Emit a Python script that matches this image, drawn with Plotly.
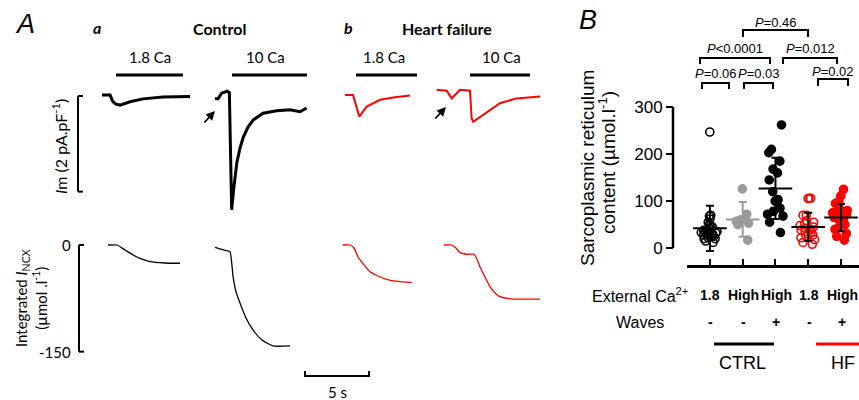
import plotly.graph_objects as go

W, H = 859, 400
def px(x): return x / W
def py(y): return 1 - y / H

# ---------------- Panel A: example recordings ----------------
# times in s from each sweep start; Im in pA/pF
ctrl18_im_t = [0, 0.63, 0.86, 1.09, 1.41, 2.19, 3.2, 4.77, 6.88]
ctrl18_im = [0.02, 0.02, -0.12, -0.17, -0.19, -0.12, -0.06, -0.02, -0.01]
ctrl10_im_t = [0, 0.23, 0.52, 0.94, 1.12, 1.30, 1.45, 1.70, 1.95, 2.21, 2.58, 2.99, 3.75, 4.82, 5.86, 6.64, 7.16]
ctrl10_im = [-0.05, -0.06, 0.06, 0.10, 0.07, -2.38, -1.97, -1.40, -1.09, -0.86, -0.65, -0.50, -0.36, -0.31, -0.29, -0.33, -0.25]
hf18_im_t = [0.23, 0.86, 1.35, 1.93, 2.97, 3.98, 5.31]
hf18_im = [0.02, 0.02, -0.43, -0.22, -0.08, -0.03, 0.01]
hf10_im_t = [0.05, 0.84, 1.23, 1.48, 1.88, 2.66, 2.79, 2.91, 3.67, 5.0, 6.30, 8.13]
hf10_im = [0.13, 0.11, -0.05, 0.02, 0.13, 0.11, -0.47, -0.54, -0.40, -0.15, -0.05, -0.01]

# integrated I_NCX in umol/l
ctrl18_int_t = [0.47, 1.17, 1.80, 2.42, 3.13, 3.75, 4.92, 6.09]
ctrl18_int = [0, 0, -7, -14, -20, -23.5, -25.3, -25.7]
ctrl10_int_t = [0, 0.55, 0.91, 1.17, 1.41, 1.64, 1.95, 2.42, 2.97, 3.67, 4.53, 5.86]
ctrl10_int = [-3.2, -6.3, -8, -9.4, -44.6, -66, -81.6, -102.7, -119.5, -133.6, -142, -142]
hf18_int_t = [0.05, 0.63, 0.94, 1.25, 1.72, 2.19, 2.81, 3.49, 4.38, 5.45]
hf18_int = [0, 0, -4.2, -16.5, -28, -37.6, -43.6, -48.2, -51.3, -53]
hf10_int_t = [0.63, 1.23, 1.56, 1.88, 2.40, 2.97, 3.20, 3.44, 3.83, 4.22, 4.61, 5.0, 5.55, 6.02, 8.13]
hf10_int = [0, 0, -4.2, -10.8, -13, -13, -19.7, -30.5, -45, -58.6, -67.5, -72.7, -75.2, -76, -76]

sweep_labels = ["1.8 Ca", "10 Ca", "1.8 Ca", "10 Ca"]
im_scale = [0, -2]          # 2 pA/pF scale bar
int_ticks = [0, -150]
time_scale_s = 5

# ---------------- Panel B: SR content ----------------
categories = ["1.8", "High", "High", "1.8", "High"]
waves = ["-", "-", "+", "-", "+"]
ctrl_18 = [247, 70, 68, 62, 55, 50, 48, 45, 42, 40, 38, 36, 35, 35, 33, 32, 30, 30,
           28, 28, 27, 25, 25, 22, 20, 20, 15, 12]
ctrl_high = [126, 72, 60, 57, 53, 50, 17]
ctrl_high_waves = [262, 210, 203, 185, 168, 160, 145, 120, 103, 100, 85, 78, 72, 68, 55, 33]
hf_18 = [106, 106, 105, 70, 70, 58, 55, 52, 48, 45, 42, 40, 38, 35, 33, 30, 28, 25, 22, 18, 12, 8]
hf_high_waves = [125, 111, 100, 95, 85, 80, 78, 75, 72, 70, 68, 65, 62, 58, 55, 50, 45, 40, 31, 25, 17]
group_means = [42, 61, 127, 45, 65]
group_sds = [48, 37, 65, 30, 29]
y_ticks = [0, 100, 200, 300]
p_values = ["0.06", "0.03", "<0.0001", "0.012", "0.46", "0.02"]

BLACK, RED, GREY = "#000000", "#ff0000", "#9a9a9a"
FA = "Lato"
FB = "Liberation Sans"

fig = go.Figure()

# ---- layout geometry for panel A ----
T0PX, PXS = 102, 12.8           # pixel of t=0, px per second
sweep_offsets = [0, 8.83, 18.75, 26.09]
Y0_TOP, PX_PER_PA = 96, 47.8
Y0_BOT, PX_PER_UM = 245, 0.711

im_sets = [(ctrl18_im_t, ctrl18_im, BLACK, 3.0), (ctrl10_im_t, ctrl10_im, BLACK, 3.0),
           (hf18_im_t, hf18_im, RED, 2.0), (hf10_im_t, hf10_im, RED, 2.0)]
int_sets = [(ctrl18_int_t, ctrl18_int, BLACK), (ctrl10_int_t, ctrl10_int, BLACK),
            (hf18_int_t, hf18_int, RED), (hf10_int_t, hf10_int, RED)]

for off, (t, v, c, w) in zip(sweep_offsets, im_sets):
    fig.add_trace(go.Scatter(x=[ti + off for ti in t], y=v, mode="lines", xaxis="x", yaxis="y",
                             line=dict(color=c, width=w), hoverinfo="skip", showlegend=False))
for off, (t, v, c) in zip(sweep_offsets, int_sets):
    fig.add_trace(go.Scatter(x=[ti + off for ti in t], y=v, mode="lines", xaxis="x", yaxis="y2",
                             line=dict(color=c, width=1.3, shape="spline", smoothing=0.5),
                             hoverinfo="skip", showlegend=False))

# ---- Panel B points ----
groups = [ctrl_18, ctrl_high, ctrl_high_waves, hf_18, hf_high_waves]
styles = [("circle-open", BLACK), ("circle", GREY), ("circle", BLACK),
          ("circle-open", RED), ("circle", RED)]
bar_cols = [BLACK, GREY, BLACK, BLACK, BLACK]
for i, (vals, (sym, col)) in enumerate(zip(groups, styles)):
    fig.add_trace(go.Box(y=vals, x0=i, xaxis="x2", yaxis="y3", boxpoints="all", jitter=0.85,
                         pointpos=0, width=0.7, fillcolor="rgba(0,0,0,0)",
                         line=dict(width=0, color="rgba(0,0,0,0)"), whiskerwidth=0,
                         marker=dict(symbol=sym, size=8, color=col, line=dict(width=1.6, color=col)),
                         hoverinfo="skip", showlegend=False))
for i, (m, s) in enumerate(zip(group_means, group_sds)):
    fig.add_trace(go.Scatter(x=[i], y=[m], xaxis="x2", yaxis="y3", mode="markers",
                             marker=dict(symbol="line-ew", size=24, color=bar_cols[i],
                                         line=dict(width=2, color=bar_cols[i])),
                             error_y=dict(type="data", array=[s], width=4, thickness=2, color=bar_cols[i]),
                             hoverinfo="skip", showlegend=False, cliponaxis=False))

shapes, ann = [], []

def text(x, y, s, size, font=FA, color=BLACK, xanchor="center", angle=0, yref="paper", yv=None):
    ann.append(dict(x=px(x), y=py(y) if yv is None else yv, xref="paper", yref=yref, text=s,
                    showarrow=False, xanchor=xanchor, yanchor="middle", textangle=angle,
                    font=dict(family=font, size=size, color=color)))

def line(x0, y0, x1, y1, color=BLACK, width=2):
    shapes.append(dict(type="line", xref="paper", yref="paper", x0=px(x0), y0=py(y0),
                       x1=px(x1), y1=py(y1), line=dict(color=color, width=width)))

# Panel A labels
text(25, 24, "<i>A</i>", 27, font="Liberation Sans")
text(97, 27, "<b><i>a</i></b>", 16)
text(348, 27, "<b><i>b</i></b>", 16)
text(219, 28, "<b>Control</b>", 16)
text(447, 28, "<b>Heart failure</b>", 16)
lab_pos = [(150, 116, 183), (265, 232, 307), (384, 356, 417), (501, 470, 530)]
for lbl, (cx, b0, b1) in zip(sweep_labels, lab_pos):
    text(cx, 57, lbl, 15)
    line(b0, 75, b1, 75, width=3)

# Im scale bar (yref y)
for yy in im_scale:
    shapes.append(dict(type="line", xref="paper", yref="y", x0=px(78), x1=px(83), y0=yy, y1=yy,
                       line=dict(color=BLACK, width=2)))
shapes.append(dict(type="line", xref="paper", yref="y", x0=px(78), x1=px(78), y0=im_scale[0],
                   y1=im_scale[1], line=dict(color=BLACK, width=2)))
text(60, 147, "<i>I</i>m (2 pA.pF<sup>-1</sup>)", 16, angle=-90)

# integrated scale bar (yref y2)
for yy in int_ticks:
    shapes.append(dict(type="line", xref="paper", yref="y2", x0=px(79), x1=px(84), y0=yy, y1=yy,
                       line=dict(color=BLACK, width=2)))
    text(73, 0, str(yy), 15, xanchor="right", yref="y2", yv=yy)
shapes.append(dict(type="line", xref="paper", yref="y2", x0=px(79), x1=px(79), y0=int_ticks[0],
                   y1=int_ticks[1], line=dict(color=BLACK, width=2)))
text(31, 298, "Integrated <i>I</i><sub>NCX</sub><br>(µmol .l<sup>-1</sup>)", 15, angle=-90)

# time scale bar
tsb0 = (305 - T0PX) / PXS
shapes.append(dict(type="path", xref="x", yref="paper",
                   path=f"M {tsb0},{py(371)} L {tsb0},{py(376)} L {tsb0 + time_scale_s},{py(376)} L {tsb0 + time_scale_s},{py(371)}",
                   line=dict(color=BLACK, width=2)))
text(337, 392, f"{time_scale_s} s", 15)

# arrows
for hx, hy in [(215, 111), (446, 107)]:
    ann.append(dict(x=px(hx), y=py(hy), xref="paper", yref="paper", ax=-12, ay=13, text="",
                    showarrow=True, arrowhead=2, arrowsize=1, arrowwidth=1.8, arrowcolor=BLACK))

# Panel B
text(588, 20, "<i>B</i>", 27, font="Liberation Sans")
shapes.append(dict(type="line", xref="paper", yref="y3", x0=px(673), x1=px(673), y0=y_ticks[0],
                   y1=y_ticks[-1], line=dict(color=BLACK, width=2.5)))
text(588, 168, "Sarcoplasmic reticulum", 19, font=FB, angle=-90)
text(607, 163, "content (µmol.l<sup>-1</sup>)", 19, font=FB, angle=-90)

cat_px = [710 + 33 * i for i in range(5)]
text(690, 295, "External Ca<sup>2+</sup>", 16, font=FB, xanchor="right")
text(640, 322, "Waves", 16, font=FB)
for cx, c, wv in zip(cat_px, categories, waves):
    text(cx, 295, f"<b>{c}</b>", 14, font=FB)
    text(cx, 322, f"<b>{wv}</b>", 14, font=FB)
line(714, 344, 774, 344, BLACK, 3)
line(816, 344, 859, 344, RED, 3)
text(742, 363, "CTRL", 18, font=FB)
text(843, 363, "HF", 18, font=FB)

# significance brackets: (x0, x1, y_line, y_leg, text_y)
brackets = [(702, 729, 83, 89, 73), (744, 773, 83, 89, 73), (700, 770, 58, 64, 48),
            (783, 837, 58, 64, 48), (743, 808, 30, 37, 22), (818, 848, 79, 86, 71)]
for (x0, x1, yl, yb, ty), p in zip(brackets, p_values):
    shapes.append(dict(type="path", xref="paper", yref="paper",
                       path=f"M {px(x0)},{py(yb)} L {px(x0)},{py(yl)} L {px(x1)},{py(yl)} L {px(x1)},{py(yb)}",
                       line=dict(color=BLACK, width=2)))
    ptxt = "<i>P</i>" + ("&lt;" + p[1:] if p.startswith("<") else "=" + p)
    text((x0 + x1) / 2, ty, ptxt, 13, font=FB)

YB_AX = 265
yb_lo, yb_hi = -36, 320
fig.update_layout(
    width=W, height=H, margin=dict(l=0, r=0, t=0, b=0),
    paper_bgcolor="white", plot_bgcolor="rgba(0,0,0,0)",
    xaxis=dict(domain=[px(90), px(560)], range=[(90 - T0PX) / PXS, (560 - T0PX) / PXS],
               visible=False, anchor="y"),
    yaxis=dict(domain=[py(215), py(85)], range=[-(215 - Y0_TOP) / PX_PER_PA, (Y0_TOP - 85) / PX_PER_PA],
               visible=False, anchor="x"),
    yaxis2=dict(domain=[py(360), py(235)], range=[-(360 - Y0_BOT) / PX_PER_UM, (Y0_BOT - 235) / PX_PER_UM],
                visible=False, anchor="x"),
    xaxis2=dict(domain=[px(687), 1.0], range=[-0.7, 4.55], type="linear", anchor="y3",
                showline=True, linewidth=2.5, linecolor=BLACK, ticks="inside", ticklen=6,
                tickwidth=2, tickcolor=BLACK, tickvals=list(range(5)), showticklabels=False,
                showgrid=False, zeroline=False),
    yaxis3=dict(domain=[py(YB_AX), py(YB_AX - (yb_hi - yb_lo) * 0.47)], range=[yb_lo, yb_hi],
                anchor="free", position=px(673), showline=False, ticks="outside", ticklen=7,
                tickwidth=2, tickcolor=BLACK, tickvals=y_ticks, tickfont=dict(family=FB, size=17, color=BLACK),
                showgrid=False, zeroline=False),
    shapes=shapes, annotations=ann,
)
fig.write_html("out.html", config={"displayModeBar": False},
               post_script="document.body.style.margin='0px';document.body.style.overflow='hidden';")
